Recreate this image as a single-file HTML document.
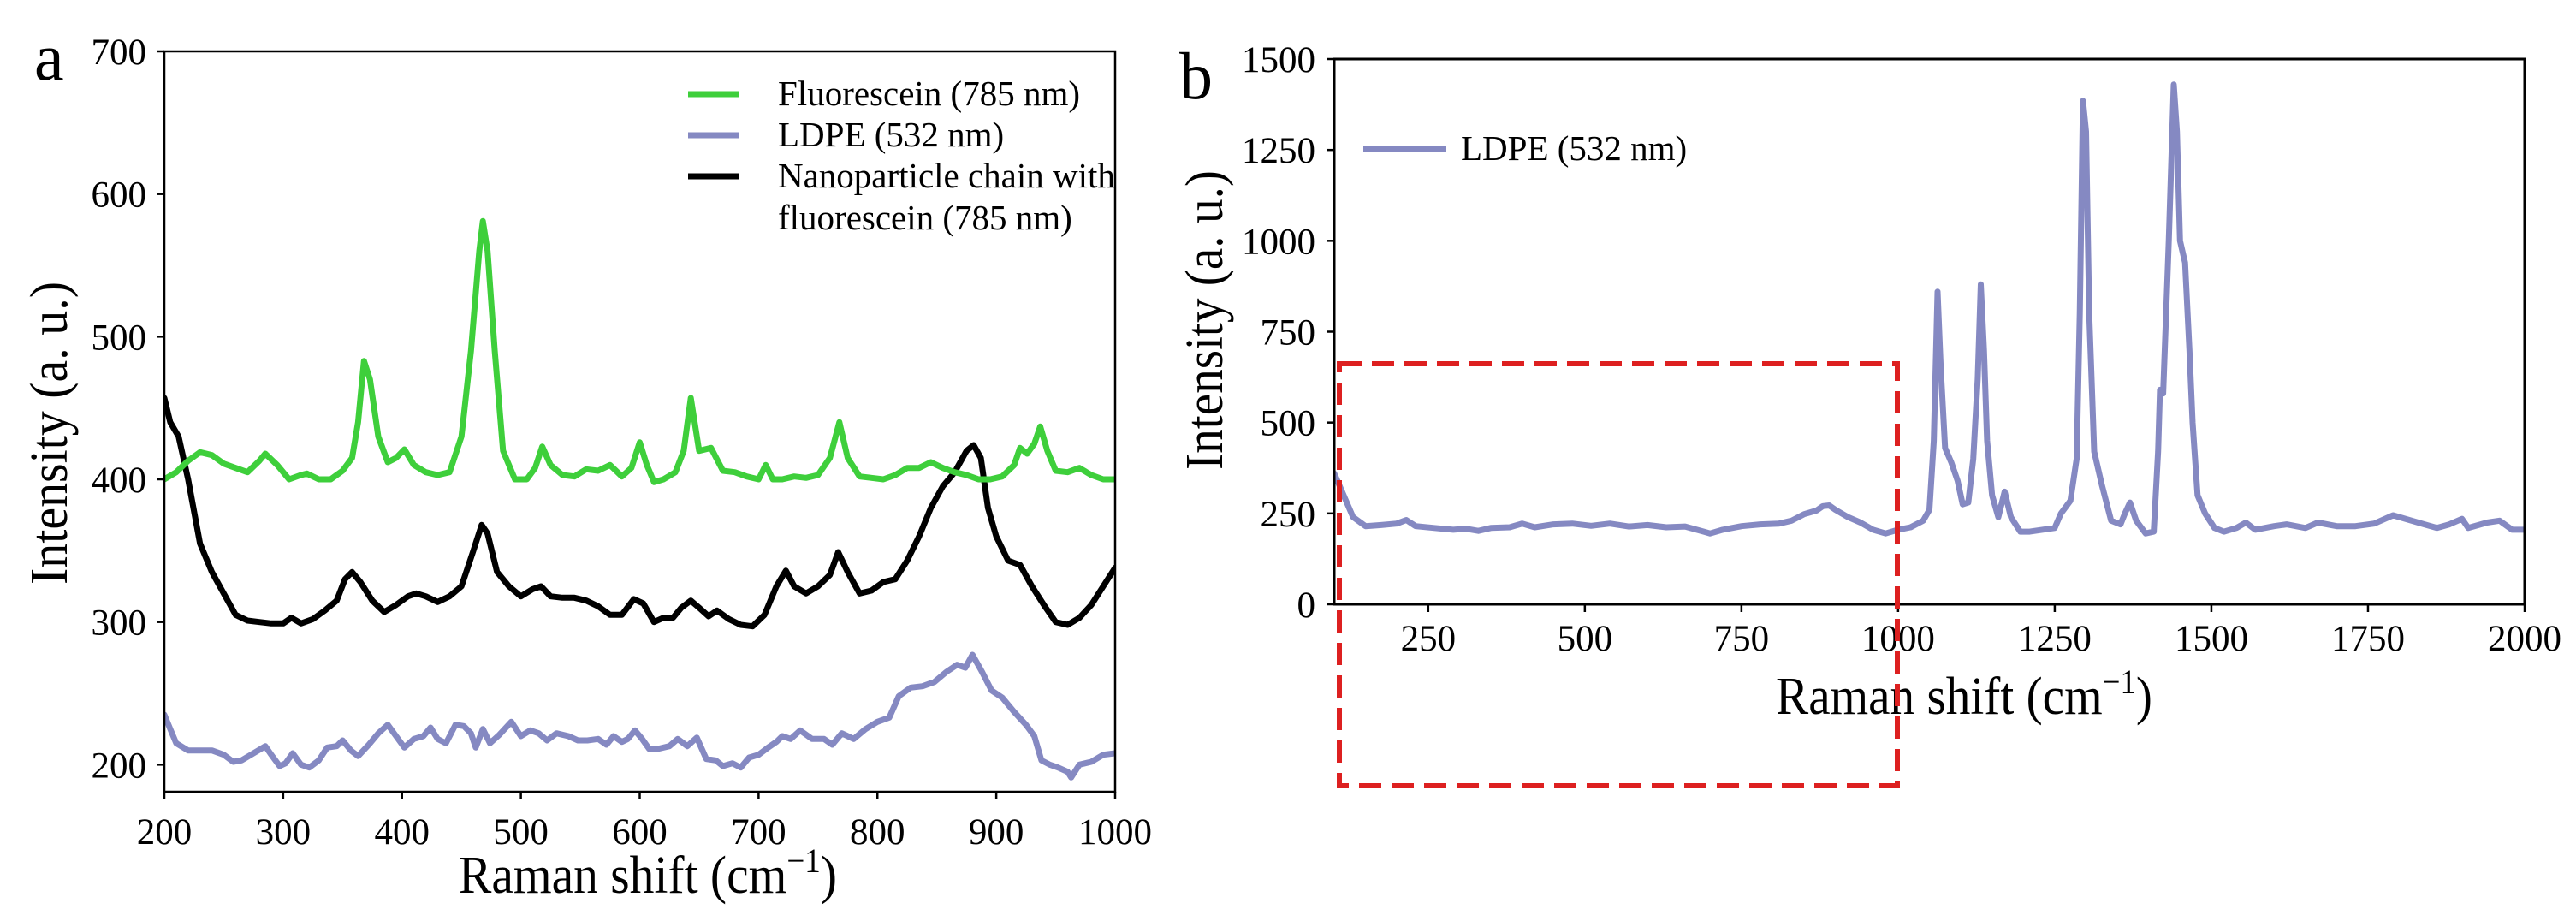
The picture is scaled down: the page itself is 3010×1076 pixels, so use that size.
<!DOCTYPE html>
<html><head><meta charset="utf-8"><style>
html,body{margin:0;padding:0;background:#fff;}
svg{display:block;}
svg text{font-family:"Liberation Serif","DejaVu Serif",serif;}
</style></head><body>
<svg id="fig" width="3010" height="1076" viewBox="0 0 3010 1076" xmlns="http://www.w3.org/2000/svg" font-family="Liberation Serif, serif"></svg>
<script>
// Panel a data
const aFluoX=[200,210,220,230,240,250,260,270,280,285,295,305,315,320,330,340,350,358,363,368,373,380,388,395,402,410,420,430,440,450,458,465,468,472,478,485,495,505,512,518,525,535,545,555,565,575,585,593,600,606,612,620,630,637,643,650,660,670,680,690,700,706,712,720,730,740,750,760,768,775,785,795,805,815,825,835,845,855,865,875,885,895,905,915,920,926,932,937,943,950,960,970,980,990,1000];
const aFluoY=[400,405,413,419,417,411,408,405,413,418,410,400,403,404,400,400,406,415,440,483,470,430,412,415,421,410,405,403,405,430,490,560,581,560,490,420,400,400,408,423,410,403,402,407,406,410,402,408,426,410,398,400,405,420,457,420,422,406,405,402,400,410,400,400,402,401,403,415,440,415,402,401,400,403,408,408,412,408,405,403,400,400,402,410,422,418,425,437,420,406,405,408,403,400,400];
const aNpX=[200,205,212,220,230,240,250,260,270,280,290,300,307,315,325,335,345,352,358,365,375,385,395,405,412,420,430,440,450,460,467,472,480,490,500,510,517,525,535,545,555,565,575,585,595,603,612,620,628,635,643,650,658,665,675,685,695,705,715,723,730,740,750,760,767,775,785,795,805,815,825,835,845,855,865,875,881,887,893,900,910,920,930,940,950,960,970,980,990,1000];
const aNpY=[457,440,430,400,355,335,320,305,301,300,299,299,303,299,302,308,315,330,335,328,315,307,312,318,320,318,314,318,325,350,368,362,335,325,318,323,325,318,317,317,315,311,305,305,316,313,300,303,303,310,315,310,304,308,302,298,297,305,325,336,325,320,325,333,349,335,320,322,328,330,343,360,380,395,405,420,424,415,380,360,343,340,325,312,300,298,303,312,325,338];
const aLdX=[200,205,210,220,230,240,250,258,265,275,285,290,297,302,308,315,322,330,337,345,350,357,363,372,380,388,395,402,410,418,424,430,437,445,452,458,462,468,474,482,492,500,508,515,522,530,540,548,556,565,572,578,585,590,596,602,608,615,625,632,640,648,656,664,670,678,685,692,700,708,715,720,727,735,745,755,762,770,780,790,800,810,818,828,838,848,858,867,874,880,888,896,905,915,925,932,938,945,952,960,963,970,980,990,1000];
const aLdY=[235,225,215,210,210,210,207,202,203,208,213,207,199,201,208,200,198,203,212,213,217,210,206,214,222,228,220,212,218,220,226,218,215,228,227,222,212,225,215,221,230,220,224,222,217,222,220,217,217,218,214,220,216,218,224,218,211,211,213,218,213,219,204,203,199,201,198,205,207,212,216,220,218,224,218,218,214,222,218,225,230,233,248,254,255,258,265,270,268,277,265,252,247,237,228,220,203,200,198,195,191,200,202,207,208];
const aXTicks=[200,300,400,500,600,700,800,900,1000];
const aYTicks=[200,300,400,500,600,700];
// Panel b data
const bX=[100,115,130,150,175,200,215,230,260,290,310,330,350,380,400,420,450,480,510,540,570,600,630,660,690,700,720,750,780,810,830,850,870,880,890,900,920,940,960,980,1000,1020,1040,1050,1057,1063,1068,1075,1085,1095,1103,1112,1120,1127,1132,1137,1142,1150,1160,1170,1180,1195,1210,1230,1250,1260,1275,1285,1290,1295,1300,1305,1313,1325,1340,1355,1362,1370,1380,1395,1408,1415,1418,1423,1432,1440,1445,1450,1458,1465,1470,1478,1490,1505,1520,1540,1555,1570,1600,1620,1650,1670,1700,1730,1760,1790,1810,1840,1860,1880,1900,1910,1940,1960,1980,2000];
const bY=[360,300,240,215,218,222,232,215,210,205,208,202,210,212,222,212,220,222,216,222,214,218,212,214,200,195,205,215,220,222,230,248,258,270,272,260,240,225,205,195,205,212,230,260,450,860,650,430,390,340,275,280,400,620,880,700,450,300,240,310,240,200,200,205,210,250,285,400,800,1385,1300,800,420,330,230,220,250,280,230,195,200,420,590,580,1000,1430,1300,1000,940,700,500,300,250,210,200,210,225,205,215,220,210,225,215,215,222,245,235,220,210,220,235,210,225,230,205,205];
const bXTicks=[250,500,750,1000,1250,1500,1750,2000];
const bYTicks=[0,250,500,750,1000,1250,1500];

const NS="http://www.w3.org/2000/svg";
const svg=document.getElementById('fig');
function mk(tag,attrs,parent,text){const e=document.createElementNS(NS,tag);for(const k in attrs)e.setAttribute(k,attrs[k]);if(tag==='text')e.setAttribute('font-family','Liberation Serif, serif');if(text!==undefined)e.textContent=text;(parent||svg).appendChild(e);return e;}

const A={l:192,r:1303,t:60,b:925,x0:200,x1:1000,y0:181,y1:700};
const ax=v=>A.l+(v-A.x0)/(A.x1-A.x0)*(A.r-A.l);
const ay=v=>A.b-(v-A.y0)/(A.y1-A.y0)*(A.b-A.t);
const B={l:1559,r:2950,t:69,b:706,x0:100,x1:2000,y0:0,y1:1500};
const bx=v=>B.l+(v-B.x0)/(B.x1-B.x0)*(B.r-B.l);
const by=v=>B.b-(v-B.y0)/(B.y1-B.y0)*(B.b-B.t);

function series(xs,ys,fx,fy,color,w,name,g){
  const pts=xs.map((x,i)=>fx(x).toFixed(1)+','+fy(ys[i]).toFixed(1)).join(' ');
  const p=mk('polyline',{points:pts,fill:'none',stroke:color,'stroke-width':w,'stroke-linejoin':'round','stroke-linecap':'round'},g);
  
  
}

// ---- Panel a
const ga=mk('g',{});


const cpA=mk('clipPath',{id:'cpa'},ga);mk('rect',{x:A.l,y:A.t,width:A.r-A.l,height:A.b-A.t},cpA);
const sa=mk('g',{'clip-path':'url(#cpa)'},ga);
series(aLdX,aLdY,ax,ay,'#8589c2',7,'ldpe-line-a',sa);
series(aNpX,aNpY,ax,ay,'#000',7,'nanoparticle-line',sa);
series(aFluoX,aFluoY,ax,ay,'#3ecf3b',7,'fluorescein-line',sa);
const fa=mk('rect',{x:A.l,y:A.t,width:A.r-A.l,height:A.b-A.t,fill:'none',stroke:'#000','stroke-width':2.5},ga);

aXTicks.forEach(v=>{mk('line',{x1:ax(v),x2:ax(v),y1:A.b,y2:A.b+9,stroke:'#000','stroke-width':2.5},ga);
  const t=mk('text',{x:ax(v),y:986,'font-size':43,'text-anchor':'middle'},ga,String(v));
  });
aYTicks.forEach(v=>{mk('line',{x1:A.l-9,x2:A.l,y1:ay(v),y2:ay(v),stroke:'#000','stroke-width':2.5},ga);
  const t=mk('text',{x:171,y:ay(v)+15,'font-size':43,'text-anchor':'end'},ga,String(v));
  });

let t=mk('text',{x:536,y:1043,'font-size':62,textLength:442,lengthAdjust:'spacingAndGlyphs'},svg);
t.innerHTML='Raman shift  (cm<tspan dy="-24" font-size="40">−1</tspan><tspan dy="24">)</tspan>';

t=mk('text',{x:0,y:0,'font-size':62,textLength:354,lengthAdjust:'spacingAndGlyphs',transform:'translate(78,683) rotate(-90)'},svg,'Intensity  (a. u.)');

t=mk('text',{x:40,y:93,'font-size':78},svg,'a');

const lg=mk('g',{},svg);

[['#3ecf3b',110,'Fluorescein  (785 nm)'],['#8589c2',158,'LDPE  (532 nm)'],['#000',206,'Nanoparticle chain with']].forEach(d=>{
  mk('line',{x1:804,x2:864,y1:d[1],y2:d[1],stroke:d[0],'stroke-width':7},lg);
  const tt=mk('text',{x:909,y:d[1]+13,'font-size':41},lg,d[2]);
  
});
t=mk('text',{x:909,y:268,'font-size':41},lg,'fluorescein (785 nm)');


// ---- Panel b
const gb=mk('g',{},svg);

const cpB=mk('clipPath',{id:'cpb'},gb);mk('rect',{x:B.l,y:B.t,width:B.r-B.l,height:B.b-B.t},cpB);
const sb=mk('g',{'clip-path':'url(#cpb)'},gb);
series(bX,bY,bx,by,'#8589c2',7,'ldpe-line-b',sb);
const fb=mk('rect',{x:B.l,y:B.t,width:B.r-B.l,height:B.b-B.t,fill:'none',stroke:'#000','stroke-width':3},gb);

bXTicks.forEach(v=>{mk('line',{x1:bx(v),x2:bx(v),y1:B.b,y2:B.b+9,stroke:'#000','stroke-width':2.5},gb);
  const tt=mk('text',{x:bx(v),y:760,'font-size':43,'text-anchor':'middle'},gb,String(v));
  });
bYTicks.forEach(v=>{mk('line',{x1:B.l-9,x2:B.l,y1:by(v),y2:by(v),stroke:'#000','stroke-width':2.5},gb);
  const tt=mk('text',{x:1537,y:by(v)+15,'font-size':43,'text-anchor':'end'},gb,String(v));
  });
t=mk('text',{x:2075,y:834,'font-size':62,textLength:440,lengthAdjust:'spacingAndGlyphs'},svg);
t.innerHTML='Raman shift  (cm<tspan dy="-24" font-size="40">−1</tspan><tspan dy="24">)</tspan>';

t=mk('text',{x:0,y:0,'font-size':62,textLength:350,lengthAdjust:'spacingAndGlyphs',transform:'translate(1428,549) rotate(-90)'},svg,'Intensity  (a. u.)');

t=mk('text',{x:1378,y:115,'font-size':78},svg,'b');

const lb=mk('g',{},svg);

mk('line',{x1:1593,x2:1690,y1:174,y2:174,stroke:'#8589c2','stroke-width':8},lb);
t=mk('text',{x:1707,y:187,'font-size':41},lb,'LDPE  (532 nm)');

const box=mk('rect',{x:1565,y:425,width:652,height:493,fill:'none',stroke:'#dd2020','stroke-width':6,'stroke-dasharray':'26 12'},svg);

</script>
</body></html>
